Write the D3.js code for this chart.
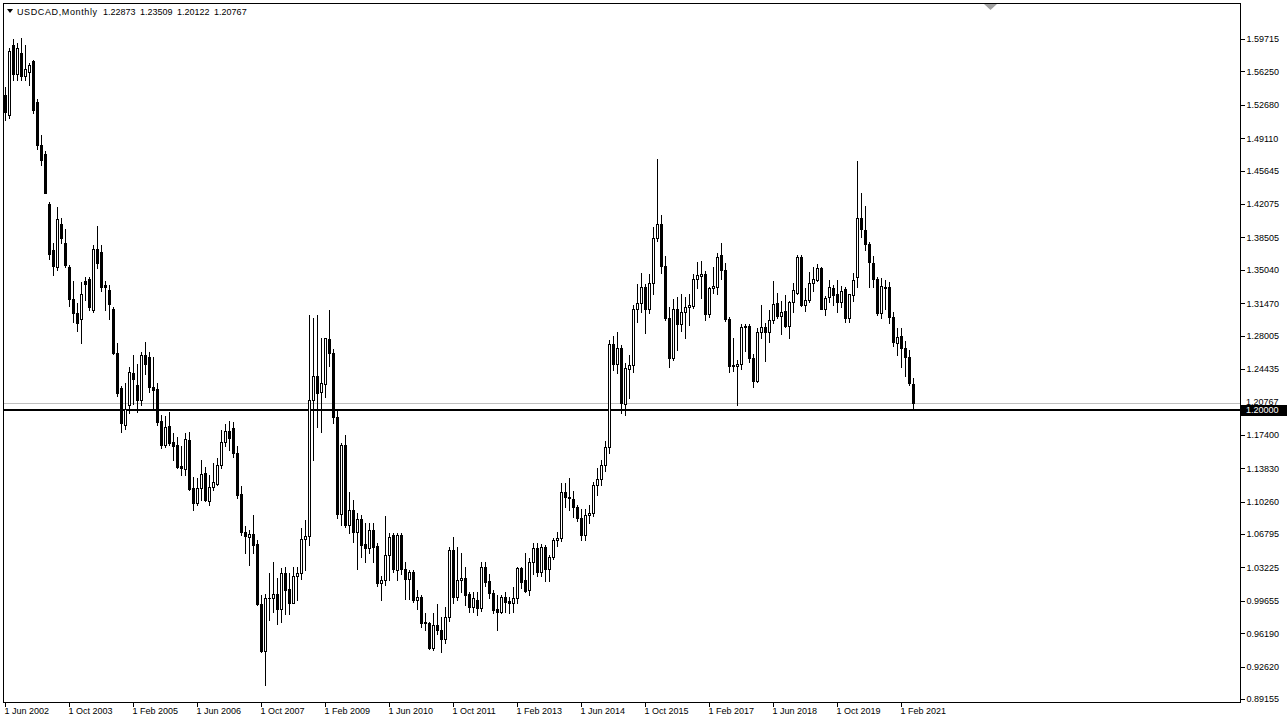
<!DOCTYPE html>
<html><head><meta charset="utf-8">
<script src="https://cdn.jsdelivr.net/npm/d3@7"></script>
<style>
html,body{margin:0;padding:0;background:#fff;overflow:hidden;}
svg{display:block;}
text{font-family:"Liberation Sans",Arial,sans-serif;font-size:9px;fill:#000;}
</style></head><body>
<svg id="c" width="1288" height="724"></svg>
<script>
// ---------- data ----------
const symbolTitle = "USDCAD,Monthly";
const lastQuote = [1.22873, 1.23509, 1.20122, 1.20767];
const firstMonth = new Date(2002, 5, 1); // 1 Jun 2002

const opens = [
 1.5373,1.5159,1.5908,1.5595,1.5825,1.5580,1.5622,
 1.5736,1.5301,1.4838,1.4742,1.4208,1.3720,1.3537,1.3989,1.3786,1.3530,1.3190,1.3041,
 1.2977,1.3384,1.3405,1.3074,1.3723,1.3690,1.3340,1.3288,1.3082,1.2611,1.2236,1.1845,
 1.2054,1.2402,1.2270,1.2110,1.2591,1.2573,1.2252,1.2225,1.1890,1.1630,1.1833,1.1666,
 1.1630,1.1406,1.1370,1.1684,1.1167,1.1013,1.1167,1.1327,1.1036,1.1185,1.1217,1.1420,
 1.1666,1.1786,1.1811,1.1544,1.1107,1.0701,1.0651,1.0683,1.0569,0.9936,0.9429,0.9990,
 0.9990,1.0034,0.9883,1.0258,1.0087,0.9944,1.0230,1.0258,1.0626,1.0662,1.2112,1.2370,
 1.2198,1.2288,1.2759,1.2610,1.1932,1.0898,1.1628,1.0773,1.0940,1.0702,1.0845,1.0569,
 1.0526,1.0722,1.0548,1.0159,1.0187,1.0454,1.0668,1.0294,1.0668,1.0301,1.0194,1.0276,
 0.9979,1.0010,0.9737,0.9724,0.9464,0.9703,0.9653,0.9553,0.9787,1.0508,1.0009,1.0187,
 1.0205,1.0037,0.9902,0.9973,0.9884,1.0329,1.0176,1.0044,0.9873,0.9848,1.0001,0.9959,
 0.9945,0.9990,1.0312,1.0187,1.0080,1.0383,1.0526,1.0270,1.0540,1.0300,1.0430,1.0620,
 1.0635,1.1130,1.1080,1.1050,1.0963,1.0847,1.0673,1.0880,1.0900,1.1200,1.1270,1.1420,
 1.1610,1.2710,1.2500,1.2670,1.2070,1.2440,1.2490,1.3090,1.3150,1.3320,1.3080,1.3360,
 1.3840,1.3990,1.3540,1.2990,1.2560,1.3090,1.2920,1.3050,1.3110,1.3120,1.3410,1.3440,
 1.3460,1.3030,1.3310,1.3320,1.3660,1.3500,1.2980,1.2490,1.2475,1.2495,1.2890,1.2900,
 1.2560,1.2320,1.2840,1.2890,1.2840,1.2970,1.3150,1.3010,1.3060,1.2900,1.3160,1.3260,
 1.3640,1.3130,1.3180,1.3360,1.3400,1.3520,1.3090,1.3210,1.3310,1.3250,1.3160,1.3300,
 1.2990,1.3230,1.3430,1.4060,1.3930,1.3780,1.3580,1.3410,1.3040,1.3320,1.3320,1.3000,
 1.2720,1.2800,1.2670,1.2570,1.22873
];
const highs = [
 1.5462,1.5872,1.5968,1.5925,1.5979,1.5910,1.5710,
 1.5747,1.5330,1.4945,1.4770,1.4230,1.3790,1.4178,1.4060,1.3936,1.3560,1.3380,1.3150,
 1.3375,1.3429,1.3429,1.3768,1.3972,1.3770,1.3380,1.3342,1.3110,1.2718,1.2260,1.2290,
 1.2467,1.2591,1.2502,1.2620,1.2733,1.2620,1.2573,1.2290,1.1952,1.1941,1.1984,1.1759,
 1.1720,1.1620,1.1756,1.1774,1.1293,1.1276,1.1470,1.1399,1.1310,1.1434,1.1492,1.1791,
 1.1860,1.1892,1.1880,1.1615,1.1189,1.0761,1.0722,1.0883,1.0615,1.0026,1.0036,1.0258,
 1.0380,1.0204,1.0311,1.0329,1.0258,1.0329,1.0329,1.0740,1.0826,1.3020,1.2990,1.3020,
 1.2770,1.2780,1.3074,1.2660,1.1990,1.1650,1.1740,1.1130,1.1043,1.0899,1.0883,1.0794,
 1.0801,1.0794,1.0580,1.0230,1.0872,1.0686,1.0686,1.0690,1.0690,1.0380,1.0294,1.0294,
 1.0080,1.0030,0.9832,0.9740,0.9832,0.9930,0.9794,0.9896,1.0544,1.0651,1.0544,1.0472,
 1.0329,1.0062,1.0062,1.0062,1.0380,1.0380,1.0250,1.0080,1.0026,1.0026,1.0062,1.0008,
 1.0112,1.0330,1.0330,1.0472,1.0420,1.0580,1.0580,1.0570,1.0560,1.0450,1.0640,1.0700,
 1.1224,1.1230,1.1280,1.1135,1.0990,1.0950,1.0950,1.0990,1.1240,1.1385,1.1467,1.1670,
 1.2750,1.2800,1.2835,1.2700,1.2510,1.2590,1.3130,1.3355,1.3470,1.3350,1.3460,1.3960,
 1.4690,1.4090,1.3650,1.3110,1.3190,1.3210,1.3250,1.3210,1.3250,1.3460,1.3590,1.3600,
 1.3490,1.3320,1.3530,1.3680,1.3790,1.3580,1.3000,1.2780,1.2540,1.2920,1.2920,1.2920,
 1.2600,1.2880,1.3125,1.2930,1.3070,1.3386,1.3260,1.3170,1.3230,1.3170,1.3360,1.3665,
 1.3660,1.3310,1.3480,1.3530,1.3570,1.3530,1.3220,1.3390,1.3340,1.3390,1.3330,1.3320,
 1.3240,1.3470,1.4670,1.4320,1.4190,1.3800,1.3650,1.3430,1.3420,1.3390,1.3370,1.3050,
 1.2880,1.2880,1.2740,1.2650,1.23509
];
const lows = [
 1.5105,1.5124,1.5530,1.5530,1.5530,1.5530,1.5480,
 1.5184,1.4800,1.4625,1.4320,1.3620,1.3450,1.3502,1.3786,1.3537,1.3120,1.2950,1.2850,
 1.2717,1.3181,1.3074,1.3050,1.3520,1.3280,1.3074,1.2973,1.2600,1.2150,1.1772,1.1800,
 1.1968,1.2074,1.1985,1.2060,1.2395,1.2200,1.2022,1.1843,1.1595,1.1613,1.1630,1.1470,
 1.1381,1.1310,1.1310,1.1150,1.0936,1.0990,1.1043,1.1030,1.0990,1.1150,1.1206,1.1381,
 1.1620,1.1577,1.1507,1.1063,1.0665,1.0476,1.0348,1.0476,0.9918,0.9418,0.9065,0.9760,
 0.9845,0.9722,0.9740,0.9829,0.9829,0.9937,0.9973,1.0200,1.0294,1.0560,1.1470,1.1820,
 1.1770,1.2140,1.2480,1.1870,1.0850,1.0780,1.0750,1.0685,1.0595,1.0300,1.0437,1.0384,
 1.0476,1.0384,1.0120,0.9973,1.0134,1.0187,1.0276,1.0187,1.0250,0.9988,0.9988,0.9950,
 0.9880,0.9690,0.9653,0.9450,0.9440,0.9610,0.9413,0.9518,0.9752,0.9945,0.9973,1.0063,
 0.9920,0.9850,0.9850,0.9810,0.9860,1.0120,0.9990,0.9840,0.9653,0.9832,0.9848,0.9832,
 0.9848,0.9945,1.0100,1.0060,1.0030,1.0250,1.0230,1.0230,1.0180,1.0180,1.0410,1.0550,
 1.0610,1.0970,1.0940,1.0860,1.0815,1.0620,1.0620,1.0800,1.0870,1.1100,1.1200,1.1350,
 1.1550,1.2430,1.2400,1.1970,1.1950,1.2130,1.2410,1.2950,1.3050,1.2830,1.3040,1.3240,
 1.3810,1.3470,1.2970,1.2460,1.2540,1.2650,1.2850,1.2770,1.2910,1.3100,1.3310,1.3200,
 1.2970,1.3000,1.3260,1.3240,1.3410,1.2960,1.2410,1.2420,1.2060,1.2440,1.2640,1.2520,
 1.2250,1.2300,1.2780,1.2530,1.2730,1.2940,1.2990,1.2820,1.2890,1.2780,1.3050,1.3240,
 1.3120,1.3060,1.3160,1.3280,1.3380,1.3090,1.3020,1.3160,1.3130,1.3050,1.3110,1.2950,
 1.2950,1.3170,1.3320,1.3850,1.3720,1.3315,1.3320,1.3020,1.2990,1.3080,1.2930,1.2690,
 1.2590,1.2470,1.2365,1.2270,1.20122
];
const closes = [
 1.5195,1.5847,1.5595,1.5872,1.5580,1.5650,1.5694,
 1.5212,1.4838,1.4678,1.4329,1.3670,1.3540,1.4047,1.3846,1.3554,1.3190,1.3040,1.2934,
 1.3243,1.3350,1.3109,1.3723,1.3573,1.3322,1.3315,1.3135,1.2618,1.2183,1.1862,1.2011,
 1.2413,1.2341,1.2110,1.2591,1.2502,1.2252,1.2217,1.1879,1.1630,1.1826,1.1648,1.1620,
 1.1399,1.1381,1.1692,1.1157,1.1013,1.1167,1.1317,1.1043,1.1185,1.1238,1.1420,1.1666,
 1.1778,1.1705,1.1544,1.1100,1.0697,1.0654,1.0683,1.0562,0.9929,0.9429,0.9993,1.0000,
 1.0034,0.9883,1.0258,1.0080,0.9937,1.0230,1.0258,1.0623,1.0662,1.2112,1.2370,1.2190,
 1.2298,1.2770,1.2610,1.1932,1.0898,1.1628,1.0773,1.0940,1.0702,1.0845,1.0560,1.0526,
 1.0722,1.0544,1.0156,1.0187,1.0454,1.0650,1.0301,1.0668,1.0301,1.0194,1.0276,0.9979,
 1.0010,0.9730,0.9724,0.9464,0.9703,0.9653,0.9553,0.9790,1.0508,1.0009,1.0187,1.0210,
 1.0026,0.9902,0.9991,0.9884,1.0329,1.0169,1.0044,0.9866,0.9848,1.0001,0.9955,0.9945,
 0.9990,1.0312,1.0169,1.0073,1.0383,1.0526,1.0270,1.0540,1.0300,1.0430,1.0620,1.0635,
 1.1130,1.1080,1.1060,1.0963,1.0847,1.0673,1.0880,1.0905,1.1200,1.1270,1.1420,1.1610,
 1.2710,1.2500,1.2670,1.2080,1.2450,1.2490,1.3090,1.3150,1.3320,1.3080,1.3360,1.3840,
 1.3990,1.3540,1.2990,1.2560,1.3090,1.2920,1.3050,1.3110,1.3125,1.3410,1.3445,1.3460,
 1.3030,1.3310,1.3330,1.3640,1.3500,1.2980,1.2480,1.2475,1.2495,1.2890,1.2900,1.2560,
 1.2320,1.2840,1.2890,1.2840,1.2970,1.3140,1.3010,1.3050,1.2900,1.3160,1.3290,1.3640,
 1.3130,1.3180,1.3360,1.3410,1.3520,1.3090,1.3200,1.3320,1.3230,1.3160,1.3280,1.2990,
 1.3240,1.3400,1.4060,1.3940,1.3780,1.3590,1.3410,1.3040,1.3330,1.3310,1.3000,1.2730,
 1.2790,1.2670,1.2570,1.2290,1.20767
];

const xTickLabels = ["1 Jun 2002","1 Oct 2003","1 Feb 2005","1 Jun 2006","1 Oct 2007",
  "1 Feb 2009","1 Jun 2010","1 Oct 2011","1 Feb 2013","1 Jun 2014","1 Oct 2015",
  "1 Feb 2017","1 Jun 2018","1 Oct 2019","1 Feb 2021"];
const yTickValues = [1.59715,1.56250,1.52680,1.49110,1.45645,1.42075,1.38505,1.35040,
  1.31470,1.28005,1.24435,1.17400,1.13830,1.10260,1.06795,1.03225,0.99655,0.96190,
  0.92620,0.89155];
const hLineLevel = 1.20000;
const bidLevel = 1.20767;

// ---------- layout ----------
const W = 1288, H = 724;
const plot = {left: 3.5, top: 3.5, right: 1240.5, bottom: 702.5};
const n = opens.length;
const months = d3.timeMonth.range(firstMonth, d3.timeMonth.offset(firstMonth, n));
const bars = months.map((d, i) => ({date: d, i, o: opens[i], h: highs[i], l: lows[i], c: closes[i]}));

const x = d3.scaleLinear().domain([0, n - 1]).range([5, 5 + 4 * (n - 1)]);
const y = d3.scaleLinear().domain([0.89155, 1.59715]).range([699, 39]);
const py = v => Math.round(y(v));

const svg = d3.select("#c");
svg.append("rect").attr("width", W).attr("height", H).attr("fill", "#fff");

svg.append("clipPath").attr("id", "clip").append("rect")
  .attr("x", 4).attr("y", 4).attr("width", 1236).attr("height", 698);
const g = svg.append("g").attr("clip-path", "url(#clip)");

// bid line (grey) and horizontal line (black)
g.append("rect").attr("x", 4).attr("y", py(bidLevel)).attr("width", 1236).attr("height", 1).attr("fill", "#c0c0c0");
g.append("rect").attr("x", 4).attr("y", py(hLineLevel) - 1).attr("width", 1236).attr("height", 2).attr("fill", "#000");

// candles
const cg = g.append("g").attr("shape-rendering", "crispEdges");
bars.forEach(b => {
  const cx = Math.round(x(b.i));
  const yh = py(b.h), yl = py(b.l);
  cg.append("rect").attr("x", cx).attr("y", yh).attr("width", 1).attr("height", yl - yh + 1).attr("fill", "#000");
  const top = py(Math.max(b.o, b.c)), bot = py(Math.min(b.o, b.c));
  cg.append("rect").attr("x", cx - 1).attr("y", top).attr("width", 3).attr("height", bot - top + 1).attr("fill", "#000");
  if (b.c > b.o && bot - top - 1 > 0) {
    cg.append("rect").attr("x", cx).attr("y", top + 1).attr("width", 1).attr("height", bot - top - 1).attr("fill", "#fff");
  }
});

// plot border
svg.append("rect").attr("x", plot.left).attr("y", plot.top)
  .attr("width", plot.right - plot.left).attr("height", plot.bottom - plot.top)
  .attr("fill", "none").attr("stroke", "#000").attr("stroke-width", 1);

// right price axis
const yAxis = d3.axisRight(y).tickValues(yTickValues).tickFormat(d3.format(".5f")).tickSize(4).tickPadding(2);
const ya = svg.append("g").attr("transform", `translate(${plot.right},0)`).call(yAxis);
ya.select(".domain").remove();
ya.selectAll("line").attr("stroke", "#000").attr("shape-rendering", "crispEdges");
ya.selectAll("text").attr("font-family", "Liberation Sans, Arial, sans-serif").attr("font-size", 9).attr("fill", "#000");

// bottom time axis
const tickIdx = xTickLabels.map((_, k) => k * 16);
const xAxis = d3.axisBottom(x).tickValues(tickIdx).tickFormat((d, k) => xTickLabels[k]).tickSize(4).tickPadding(2);
const xa = svg.append("g").attr("transform", `translate(0,${plot.bottom})`).call(xAxis);
xa.select(".domain").remove();
xa.selectAll("line").attr("stroke", "#000").attr("shape-rendering", "crispEdges");
xa.selectAll("text").attr("text-anchor", "start").attr("x", -1).attr("y", 5).attr("dy", "0.71em")
  .attr("font-family", "Liberation Sans, Arial, sans-serif").attr("font-size", 9).attr("fill", "#000");

// price labels on axis: bid and horizontal line
const fmt = d3.format(".5f");
svg.append("rect").attr("x", 1241).attr("y", py(bidLevel) - 6).attr("width", 46).attr("height", 10).attr("fill", "#fff");
svg.append("text").attr("x", 1246).attr("y", py(bidLevel) - 1).attr("dy", "0.32em").attr("font-size", 8.5).text(fmt(bidLevel));
svg.append("rect").attr("x", 1241).attr("y", py(hLineLevel) - 5).attr("width", 46).attr("height", 11).attr("fill", "#000");
svg.append("text").attr("x", 1246).attr("y", py(hLineLevel) + 0.5).attr("dy", "0.32em").style("fill", "#fff").text(fmt(hLineLevel));

// title
svg.append("path").attr("d", "M7,9 L13,9 L10,13 Z").attr("fill", "#000");
svg.append("text").attr("x", 17).attr("y", 15).attr("font-size", 10)
  .attr("textLength", 80).attr("lengthAdjust", "spacing").text(symbolTitle);
svg.append("text").attr("x", 103).attr("y", 15).attr("font-size", 9.4).attr("word-spacing", 2)
  .text(lastQuote.map(v => fmt(v)).join(" "));

// chart shift marker at top
svg.append("path").attr("d", "M984,4 L997,4 L990.5,10 Z").attr("fill", "#a0a0a0");
</script>
</body></html>
